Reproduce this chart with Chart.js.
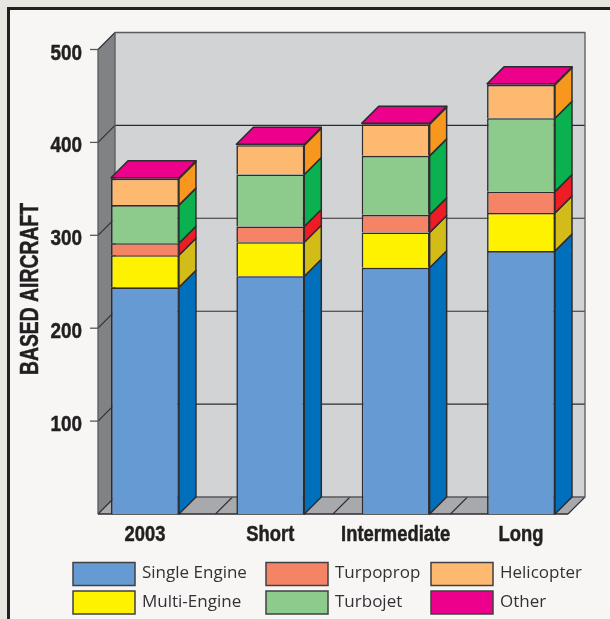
<!DOCTYPE html>
<html>
<head>
<meta charset="utf-8">
<style>
  html, body { margin: 0; padding: 0; background: #e8e6e1; overflow: hidden; }
  #panel { position: absolute; left: 7px; top: 7px; width: 620px; height: 640px; box-sizing: border-box;
           background: #f7f6f4; border: 3px solid #231f20; }
  #wrap { position: absolute; left: 0; top: 0; width: 610px; height: 619px; }
</style>
</head>
<body>
<div id="panel"></div>
<div id="wrap"><canvas id="chart" width="610" height="619"></canvas></div>
<script src="https://cdn.jsdelivr.net/npm/chart.js@4/dist/chart.umd.min.js"></script>
<script>
// Based aircraft forecast by planning horizon
const categories = ['2003', 'Short', 'Intermediate', 'Long'];
const singleEngine = [244, 256, 265, 283];
const multiEngine = [34.5, 36.5, 38, 41];
const turboprop = [13, 17, 19, 23];
const turbojet = [41, 56, 63.5, 79];
const helicopter = [28.5, 31.5, 34, 36];
const other = [1, 1, 1, 1];
const yTicks = [100, 200, 300, 400, 500];
const seriesNames = ['Single Engine', 'Multi-Engine', 'Turpoprop', 'Turbojet', 'Helicopter', 'Other'];
const seriesValues = [singleEngine, multiEngine, turboprop, turbojet, helicopter, other];
const frontColors = ['#659ad2', '#fff200', '#f58466', '#8ccb8c', '#fdb96f', '#ec008c'];
const sideColors = ['#0070bd', '#d3bc18', '#ee1c25', '#0bb04f', '#f8971d', '#ec008c'];

const LINE = '#2e2c2f';
const INK = '#231f20';
const DEPTH = 17;
const BOLD_FACE = '"Liberation Sans", sans-serif';

function poly(ctx, pts, fill, stroke, width) {
  ctx.beginPath();
  pts.forEach((p, i) => (i ? ctx.lineTo(p[0], p[1]) : ctx.moveTo(p[0], p[1])));
  ctx.closePath();
  if (fill) { ctx.fillStyle = fill; ctx.fill(); }
  if (stroke) { ctx.strokeStyle = stroke; ctx.lineWidth = width; ctx.lineJoin = 'round'; ctx.stroke(); }
}

function segment(ctx, x1, y1, x2, y2, stroke, width) {
  ctx.beginPath();
  ctx.moveTo(x1, y1);
  ctx.lineTo(x2, y2);
  ctx.strokeStyle = stroke;
  ctx.lineWidth = width;
  ctx.stroke();
}

// Bold label squeezed horizontally to a condensed look, with a hairline stroke for extra weight.
function narrowText(ctx, text, x, y, size, squeeze, align, angle) {
  ctx.save();
  ctx.translate(x, y);
  if (angle) ctx.rotate(angle);
  ctx.scale(squeeze, 1);
  ctx.font = 'bold ' + size + 'px ' + BOLD_FACE;
  ctx.fillStyle = INK;
  ctx.strokeStyle = INK;
  ctx.lineWidth = 0.5;
  ctx.textAlign = align;
  ctx.textBaseline = 'alphabetic';
  ctx.fillText(text, 0, 0);
  ctx.strokeText(text, 0, 0);
  ctx.restore();
}

// Box walls, floor and gridlines sit behind the bars.
const roomPlugin = {
  id: 'room',
  beforeDatasetsDraw(chart) {
    const { ctx, scales: { y } } = chart;
    const floorLeft = 98, floorRight = 568;
    const base = y.getPixelForValue(0);
    const top = y.getPixelForValue(500);
    ctx.save();
    poly(ctx, [[floorLeft + DEPTH, top - DEPTH], [floorRight + DEPTH, top - DEPTH],
               [floorRight + DEPTH, base - DEPTH], [floorLeft + DEPTH, base - DEPTH]], '#d1d3d4');
    poly(ctx, [[floorLeft, base], [floorLeft + DEPTH, base - DEPTH],
               [floorRight + DEPTH, base - DEPTH], [floorRight, base]], '#a7a9ac');
    poly(ctx, [[floorLeft, top], [floorLeft + DEPTH, top - DEPTH],
               [floorLeft + DEPTH, base - DEPTH], [floorLeft, base]], '#808285');
    yTicks.forEach(v => {
      const py = y.getPixelForValue(v);
      segment(ctx, 90, py, floorLeft, py, '#58595b', 1.3);
      segment(ctx, floorLeft, py, floorLeft + DEPTH, py - DEPTH, LINE, 1.1);
      segment(ctx, floorLeft + DEPTH, py - DEPTH, floorRight + DEPTH, py - DEPTH, LINE, 1.1);
    });
    const floorStep = (floorRight - floorLeft) / categories.length;
    categories.forEach((c, i) => {
      const fx = floorLeft + floorStep * (i + 1);
      segment(ctx, fx, base, fx + DEPTH, base - DEPTH, LINE, 1.1);
    });
    segment(ctx, floorLeft, base, floorLeft + DEPTH, base - DEPTH, LINE, 1.1);
    poly(ctx, [[floorLeft + DEPTH, top - DEPTH], [floorRight + DEPTH, top - DEPTH],
               [floorRight + DEPTH, base - DEPTH], [floorLeft + DEPTH, base - DEPTH]], null, '#58595b', 1.3);
    segment(ctx, floorLeft, top, floorLeft, base, '#58595b', 1.3);
    segment(ctx, floorLeft, base, floorRight, base, LINE, 1.4);
    ctx.restore();
  }
};

// Side and top faces extruded from each bar element.
const extrudePlugin = {
  id: 'extrude',
  afterDatasetsDraw(chart) {
    const { ctx } = chart;
    ctx.save();
    chart.data.datasets.forEach((ds, d) => {
      chart.getDatasetMeta(d).data.forEach(bar => {
        const right = bar.x + bar.width / 2;
        const left = bar.x - bar.width / 2;
        poly(ctx, [[right, bar.y], [right + DEPTH, bar.y - DEPTH],
                   [right + DEPTH, bar.base - DEPTH], [right, bar.base]], sideColors[d], LINE, 1.5);
        if (d === chart.data.datasets.length - 1) {
          poly(ctx, [[left, bar.y], [left + DEPTH, bar.y - DEPTH],
                     [right + DEPTH, bar.y - DEPTH], [right, bar.y]], sideColors[d], LINE, 1.5);
        }
      });
    });
    ctx.restore();
  }
};

// Axis labels, axis title and the two-row key under the chart.
const annotationPlugin = {
  id: 'annotations',
  afterDraw(chart) {
    const { ctx, scales: { x, y } } = chart;
    yTicks.forEach(v => {
      narrowText(ctx, String(v), 82, y.getPixelForValue(v) + 10, 22.5, 0.84, 'right');
    });
    categories.forEach((c, i) => {
      narrowText(ctx, c, x.getPixelForTick(i), 541, 22, 0.835, 'center');
    });
    narrowText(ctx, 'BASED AIRCRAFT', 37.5, 289, 26, 0.745, 'center', -Math.PI / 2);

    const columns = [73, 266, 431];
    const textColumns = [142, 335, 500];
    const rows = [562.5, 591];
    ctx.save();
    ctx.font = '17px "Open Sans", sans-serif';
    ctx.textBaseline = 'middle';
    seriesNames.forEach((name, i) => {
      const col = Math.floor(i / 2);
      const row = i % 2;
      ctx.fillStyle = frontColors[i];
      ctx.fillRect(columns[col], rows[row], 62, 23);
      ctx.strokeStyle = '#414042';
      ctx.lineWidth = 1.5;
      ctx.strokeRect(columns[col], rows[row], 62, 23);
      ctx.fillStyle = '#333134';
      ctx.fillText(name, textColumns[col], rows[row] + 11);
    });
    ctx.restore();
  }
};

new Chart(document.getElementById('chart'), {
  type: 'bar',
  data: {
    labels: categories,
    datasets: seriesNames.map((name, i) => ({
      label: name,
      data: seriesValues[i],
      backgroundColor: frontColors[i],
      borderColor: LINE,
      borderWidth: 1.6,
      borderSkipped: 'bottom',
      categoryPercentage: 1,
      barPercentage: 0.542
    }))
  },
  options: {
    responsive: false,
    animation: false,
    layout: { padding: { top: 49.5, right: 26.3, bottom: 0, left: 0 } },
    plugins: { legend: { display: false }, tooltip: { enabled: false } },
    scales: {
      x: {
        stacked: true,
        grid: { display: false },
        border: { display: false },
        ticks: { display: false, autoSkip: false },
        afterFit(scale) { scale.height = 105; }
      },
      y: {
        stacked: true,
        min: 0,
        max: 500,
        grid: { display: false },
        border: { display: false },
        ticks: { display: false },
        afterFit(scale) { scale.width = 82.3; },
        afterBuildTicks(scale) { scale.ticks = yTicks.map(value => ({ value })); }
      }
    }
  },
  plugins: [roomPlugin, extrudePlugin, annotationPlugin]
});
</script>
</body>
</html>
